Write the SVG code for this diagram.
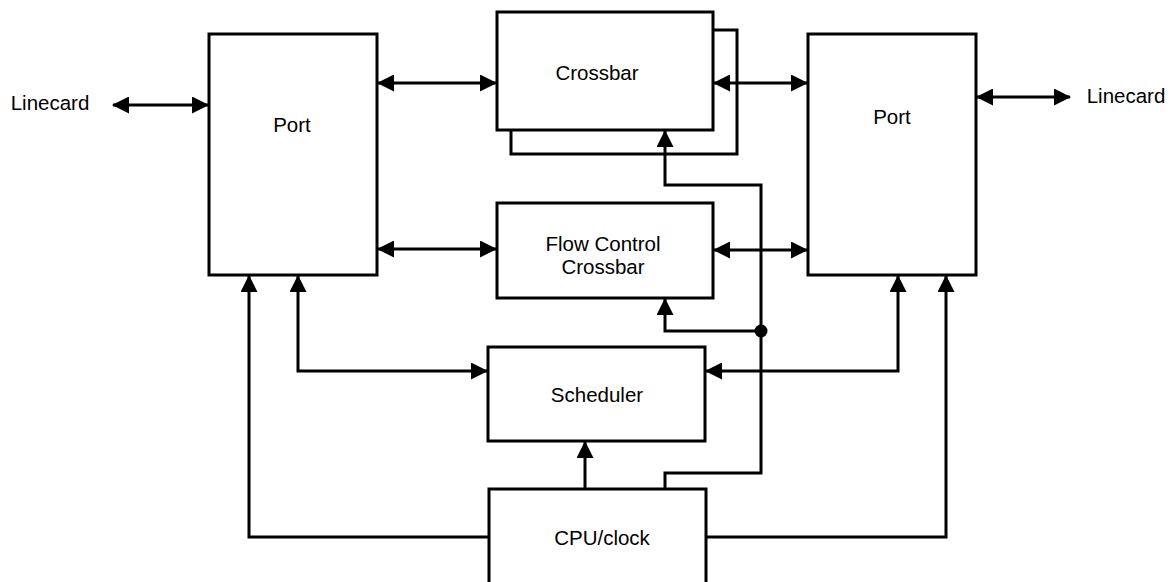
<svg xmlns="http://www.w3.org/2000/svg" width="1172" height="582" viewBox="0 0 1172 582">
<style>
.box{fill:#fff;stroke:#000;stroke-width:3}
.ln{fill:none;stroke:#000;stroke-width:3}
.lbl{font-family:"Liberation Sans",Arial,sans-serif;font-size:20.5px;fill:#000;text-anchor:middle}
</style>
<defs>
<marker id="ah" markerUnits="userSpaceOnUse" markerWidth="17" markerHeight="17" viewBox="0 0 17 17" refX="16" refY="8.5" orient="auto-start-reverse">
<path d="M0,0 L17,8.5 L0,17 z" fill="#000"/>
</marker>
</defs>
<rect width="1172" height="582" fill="#fff"/>
<g id="port-left"><rect class="box" x="209" y="34" width="168" height="241"/><text class="lbl" x="292" y="132">Port</text></g>
<g id="port-right"><rect class="box" x="808" y="34" width="168" height="241"/><text class="lbl" x="892" y="124">Port</text></g>
<g id="crossbar"><rect class="box" x="511" y="30" width="226" height="124"/><rect class="box" x="497" y="12" width="216" height="118"/><text class="lbl" x="597" y="80">Crossbar</text></g>
<g id="flow-control"><rect class="box" x="497" y="203" width="216" height="95"/><text class="lbl" x="603" y="251">Flow Control</text><text class="lbl" x="603" y="274">Crossbar</text></g>
<g id="scheduler"><rect class="box" x="488" y="347" width="217" height="94"/><text class="lbl" x="597" y="402">Scheduler</text></g>
<g id="cpu"><rect class="box" x="489" y="489" width="217" height="120"/><text class="lbl" x="602" y="545">CPU/clock</text></g>
<g id="linecard-left"><text class="lbl" x="50" y="110">Linecard</text></g>
<g id="linecard-right"><text class="lbl" x="1126" y="103">Linecard</text></g>
<g id="connectors">
<line class="ln" x1="113" y1="105" x2="208" y2="105" marker-start="url(#ah)" marker-end="url(#ah)"/>
<line class="ln" x1="977" y1="97" x2="1070" y2="97" marker-start="url(#ah)" marker-end="url(#ah)"/>
<line class="ln" x1="378" y1="83" x2="496" y2="83" marker-start="url(#ah)" marker-end="url(#ah)"/>
<line class="ln" x1="714" y1="83" x2="807" y2="83" marker-start="url(#ah)" marker-end="url(#ah)"/>
<line class="ln" x1="378" y1="249" x2="496" y2="249" marker-start="url(#ah)" marker-end="url(#ah)"/>
<line class="ln" x1="714" y1="250" x2="807" y2="250" marker-start="url(#ah)" marker-end="url(#ah)"/>
<polyline class="ln" points="665,489 665,473 761,473 761,185 665,185 665,131" marker-end="url(#ah)"/>
<polyline class="ln" points="761,331 665,331 665,299" marker-end="url(#ah)"/>
<circle cx="761" cy="331" r="6.5" fill="#000"/>
<polyline class="ln" points="298,276 298,371 487,371" marker-start="url(#ah)" marker-end="url(#ah)"/>
<polyline class="ln" points="898,276 898,371 706,371" marker-start="url(#ah)" marker-end="url(#ah)"/>
<line class="ln" x1="585" y1="489" x2="585" y2="442" marker-end="url(#ah)"/>
<polyline class="ln" points="489,537 249,537 249,276" marker-end="url(#ah)"/>
<polyline class="ln" points="706,537 946,537 946,276" marker-end="url(#ah)"/>
</g>
</svg>
